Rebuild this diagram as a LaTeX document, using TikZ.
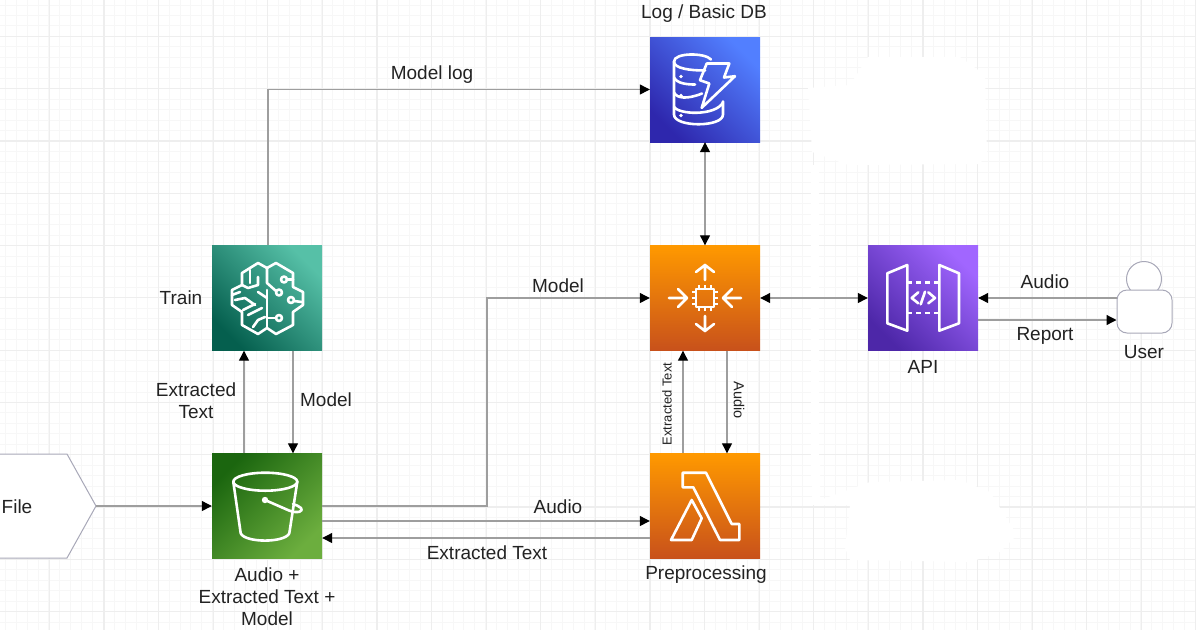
\documentclass[tikz,border=0pt]{standalone}
\usepackage{fontspec}
\setmainfont{Liberation Sans}
\usetikzlibrary{arrows.meta,calc}
\definecolor{gridminor}{HTML}{F7F7F7}
\definecolor{gridmajor}{HTML}{EEEEEE}
\definecolor{linegray}{HTML}{9E9E9E}
\definecolor{shapeline}{HTML}{A8A8B8}
\definecolor{txt}{HTML}{222222}
\tikzset{conn/.style={-{Triangle[length=10pt,width=10pt,color=black,fill=black]}, draw=linegray, line width=1.2pt},
  both/.style={{Triangle[length=10pt,width=10pt,color=black,fill=black]}-{Triangle[length=10pt,width=10pt,color=black,fill=black]}, draw=linegray, line width=1.2pt},
  icon/.style={minimum width=110pt, minimum height=105pt, inner sep=0pt, draw=none},
  glyph/.style={draw=white, line width=2.6pt, line join=round, line cap=round},
  lbl/.style={font=\fontsize{19}{22}\selectfont, text=txt, align=center, inner sep=0pt},
  small/.style={font=\fontsize{13}{15}\selectfont, text=txt, inner sep=0pt},
  shapeout/.style={draw=shapeline, line width=1pt, fill=white}}

\begin{document}
\begin{tikzpicture}[x=1pt, y=-1pt]
  \useasboundingbox (0,0) rectangle (1196,630);
  % page grid
  \foreach \k in {0,...,109}{
    \draw[gridminor, line width=1pt] ({5.3+10.92*\k},0) -- ({5.3+10.92*\k},630);
  }
  \foreach \k in {0,...,59}{
    \draw[gridminor, line width=1pt] (0,{5+10.46*\k}) -- (1196,{5+10.46*\k});
  }
  \foreach \k in {0,...,21}{
    \draw[gridmajor, line width=1.2pt] ({49.4+54.6*\k},0) -- ({49.4+54.6*\k},630);
  }
  \foreach \k in {0,...,11}{
    \draw[gridmajor, line width=1.2pt] (0,{36.3+52.3*\k}) -- (1196,{36.3+52.3*\k});
  }
  % blanked areas
  \fill[white] (868,57) -- (960,57) -- (985,75) -- (987,152) -- (980,164) -- (848,165) -- (812,152) -- (808,88) -- (850,85) -- cycle;
  \fill[white] (811,165) rectangle (819,480);
  \fill[white] (812,460) -- (820,460) -- (820,500) -- (870,482) -- (960,480) -- (990,492) -- (1017,535) -- (1000,552) -- (970,562) -- (850,560) -- (845,548) -- (850,505) -- (812,505) -- cycle;

  % service icons
  \node[icon, bottom color={rgb,255:red,46;green,39;blue,173}, top color={rgb,255:red,82;green,127;blue,255}, shading angle=-45] (db) at (705,89.5) {};
  \node[icon, bottom color={rgb,255:red,5;green,95;blue,78}, top color={rgb,255:red,86;green,192;blue,167}, shading angle=-45] (train) at (267,298) {};
  \node[icon, top color={rgb,255:red,27;green,102;blue,15}, bottom color={rgb,255:red,108;green,174;blue,62}, shading angle=45] (bucket) at (267,506) {};
  \node[icon, top color={rgb,255:red,255;green,153;blue,0}, bottom color={rgb,255:red,200;green,81;blue,27}] (compute) at (705,298) {};
  \node[icon, top color={rgb,255:red,255;green,153;blue,0}, bottom color={rgb,255:red,200;green,81;blue,27}] (prep) at (705,506) {};
  \node[icon, bottom color={rgb,255:red,77;green,39;blue,168}, top color={rgb,255:red,161;green,102;blue,255}, shading angle=-45] (api) at (923,298) {};

  % database with bolt
  \begin{scope}[shift={(db.center)}, glyph]
    \draw (6,-30) .. controls (0,-37) and (-31,-37) .. (-31,-28) .. controls (-31,-21) and (-15,-19) .. (0,-19);
    \draw (-31,-28) -- (-31,25) .. controls (-31,38) and (18,38) .. (18,25) -- (18,12);
    \draw (-31,-12) .. controls (-28,-6) and (-18,-5) .. (-10,-5);
    \draw (-31,3) .. controls (-28,9) and (-18,10) .. (-3,4);
    \draw (-31,17) .. controls (-28,25) and (10,27) .. (18,13);
    \draw (1.7,-26) -- (24.3,-26) -- (19,-12) -- (30,-13.3) -- (-3.3,18.3) -- (4.3,-6) -- (-5,-9.3) -- cycle;
    \foreach \y in {-13,6,26}{ \fill[white] (-24,\y) circle (1.8); }
  \end{scope}
  % brain
  \begin{scope}[shift={(train.center)}, glyph]
    \draw (-9,-35) -- (0,-30) -- (9,-35) -- (26,-25) -- (26,-11) -- (36,-6) -- (36,7) -- (26,14) -- (26,27) -- (9,36) -- (0,30) -- (-9,36) -- (-25,27) -- (-25,14) -- (-35,7) -- (-35,-8) -- (-25,-13) -- (-25,-25) -- cycle;
    \draw (0,-30) -- (0,-15) -- (9,-7);
    \draw (0,-8) -- (0,30);
    \draw (20,-18.5) -- (26,-18.5);
    \draw (27,3) -- (35,4);
    \draw (9,20) -- (0,20);
    \draw (-17,-28) -- (-17,-15);
    \draw (-9,-21) -- (-9,-13) -- (-19,-10) -- (-25,-13);
    \draw (0,0) -- (-9,-6);
    \draw (-35,-3) -- (-27,-6);
    \draw (-32,2) -- (-22,0) -- (-12,7);
    \draw (-24,12) -- (-12,6);
    \draw (-19,17) -- (-5,10);
    \draw (-14,29) -- (-9,22) -- (-2,19);
    \foreach \a/\b in {17/-18.5,12/-5.5,24/2,12/20}{
      \draw (\a,\b) circle (3);
    }
  \end{scope}
  % bucket
  \begin{scope}[shift={(bucket.center)}, glyph]
    \draw (-1.7,-24.3) ellipse (32 and 9);
    \draw (-33.7,-24.3) -- (-26.3,27.3) .. controls (-22,37) and (18,37) .. (22.3,27.3) -- (30.3,-24.3);
    \draw (-2,-6) -- (22,4.5) .. controls (31,8) and (37,5) .. (34,2) .. controls (32,0) and (29,-1) .. (26,-2);
    \fill[white] (-2,-6) circle (3.2);
  \end{scope}
  % chip and arrows
  \begin{scope}[shift={(compute.center)}, glyph]
    \draw (-9,-9) rectangle (9,9);
    \foreach \p in {-6,0,6}{
      \draw[line width=1.6pt, line cap=butt] (\p,-9) -- (\p,-13);
      \draw[line width=1.6pt, line cap=butt] (\p,9) -- (\p,13);
      \draw[line width=1.6pt, line cap=butt] (-9,\p) -- (-13,\p);
      \draw[line width=1.6pt, line cap=butt] (9,\p) -- (13,\p);
    }
    \draw (0,-18) -- (0,-33) (-9,-26) -- (0,-33) -- (9,-26);
    \draw (0,18) -- (0,33) (-9,26) -- (0,33) -- (9,26);
    \draw (-36,0) -- (-18,0) (-27,-9) -- (-18,0) -- (-27,9);
    \draw (36,0) -- (18,0) (27,-9) -- (18,0) -- (27,9);
  \end{scope}
  % lambda
  \begin{scope}[shift={(prep.center)}, glyph]
    \draw (-22.3,-33.3) -- (1,-33.3) -- (26.7,18) -- (34.3,18) -- (34.3,34) -- (15,34) -- (-11.7,-18.7) -- (-22.3,-18.7) -- cycle;
    \draw (-13.3,-6) -- (-3.3,12.3) -- (-13.3,34) -- (-34,34) -- cycle;
  \end{scope}
  % gateway
  \begin{scope}[shift={(api.center)}, glyph]
    \draw (-35.7,-24.7) -- (-15.7,-33) -- (-15.7,32.7) -- (-35.7,25.3) -- cycle;
    \draw (16.3,-33) -- (36,-24.7) -- (36,25.3) -- (16.3,32.7) -- cycle;
    \draw[dash pattern=on 5pt off 4pt, line cap=butt] (-15.7,-15.7) -- (16.3,-15.7);
    \draw[dash pattern=on 5pt off 4pt, line cap=butt] (-15.7,15) -- (16.3,15);
    \draw (-4.7,-5.7) -- (-11.3,0) -- (-4.7,5.3);
    \draw (5.3,-5.7) -- (12,0) -- (5.3,5.3);
    \draw (2,-6.3) -- (-2.3,6.3);
  \end{scope}

  % file tag and user
  \draw[shapeout] (0,454) -- (67,454) -- (96,506) -- (67,558) -- (0,558);
  \coordinate (filetip) at (96,506);
  \node[lbl] (filelbl) at (17,507) {File};
  \node[shapeout, circle, minimum size=35pt, inner sep=0pt] (head) at (1144,279) {};
  \node[shapeout, rounded corners=10pt, minimum width=55pt, minimum height=43pt, inner sep=0pt] (user) at (1144.5,311.5) {};

  % labels
  \node[lbl] (dblbl) at (704,14) {Log / Basic DB};
  \node[lbl] (trainlbl) at (181,298) {Train};
  \node[lbl] (apilbl) at (923,367) {API};
  \node[lbl] (userlbl) at (1144,352) {User};
  \node[lbl] (preplbl) at (706,575) {Preprocessing};
  \node[lbl] (bucketlbl) at (267,597) {Audio +\\Extracted Text +\\Model};

  % connectors
  \draw[conn] (filetip) -- (bucket.west);
  \draw[conn] ($(bucket.north)+(-23,0)$) -- ($(train.south)+(-23,0)$);
  \draw[conn] ($(train.south)+(26,0)$) -- ($(bucket.north)+(26,0)$);
  \draw[conn] ($(train.north)+(1,0)$) |- (db.west);
  \draw[conn] (bucket.east) -- (487,506) |- (compute.west);
  \draw[conn] ($(bucket.east)+(0,15)$) -- ($(prep.west)+(0,15)$);
  \draw[conn] ($(prep.west)+(0,32)$) -- ($(bucket.east)+(0,32)$);
  \draw[both] (compute.north) -- (db.south);
  \draw[both] (compute.east) -- (api.west);
  \draw[conn] ($(user.west)+(0,-13.5)$) -- (api.east);
  \draw[conn] ($(api.east)+(0,22)$) -- ($(user.west)+(0,8.5)$);
  \draw[conn] ($(prep.north)+(-22,0)$) -- ($(compute.south)+(-22,0)$);
  \draw[conn] ($(compute.south)+(22,0)$) -- ($(prep.north)+(22,0)$);

  % connector labels
  \node[lbl] (l1) at (196,401) {Extracted\\Text};
  \node[lbl] (l2) at (326,400) {Model};
  \node[lbl] (l3) at (432,75) {Model log};
  \node[lbl] (l4) at (558,286) {Model};
  \node[lbl] (l5) at (558,507) {Audio};
  \node[lbl] (l6) at (487,553) {Extracted Text};
  \node[lbl] (l7) at (1045,282) {Audio};
  \node[lbl] (l8) at (1045,336) {Report};
  \node[small, rotate=90] (l9) at (667,404) {Extracted Text};
  \node[small, font=\fontsize{14.5}{16}\selectfont, rotate=-90] (l10) at (739,400) {Audio};
\end{tikzpicture}
\end{document}
